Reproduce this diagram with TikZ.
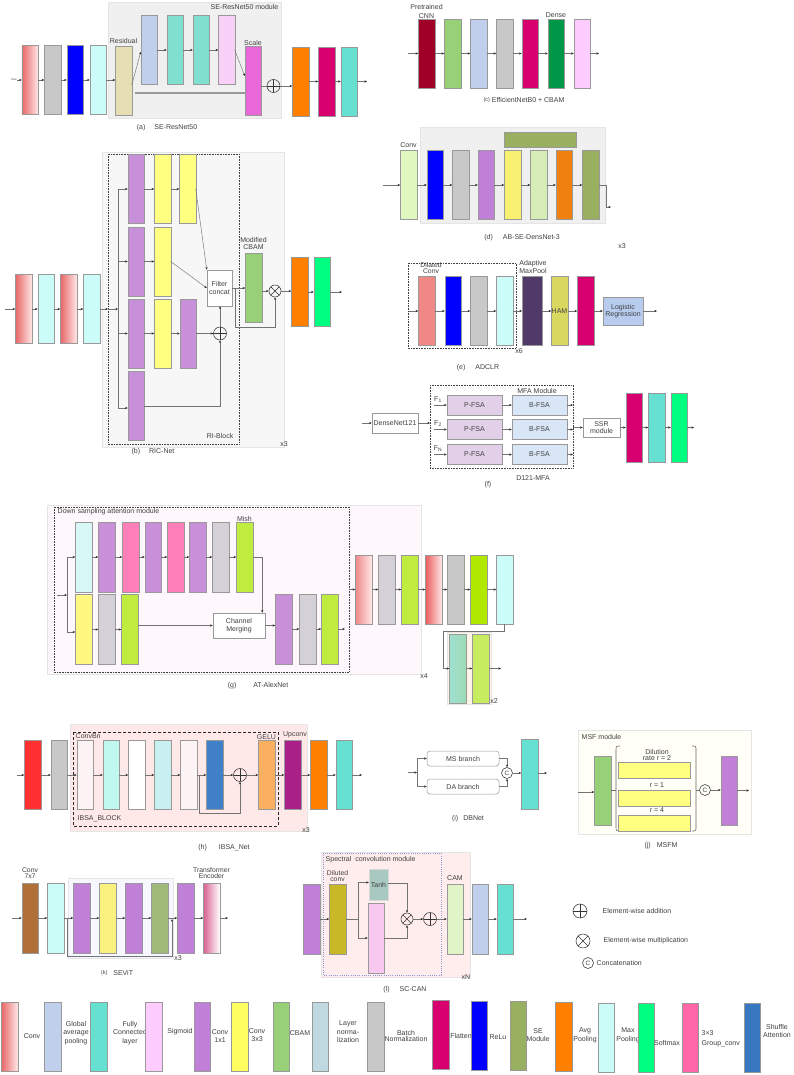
\documentclass[tikz,border=0pt]{standalone}
\usepackage{fontspec}
\setmainfont{Liberation Sans}
\usetikzlibrary{arrows.meta,calc}
\definecolor{cRedL}{HTML}{E86666}
\definecolor{cRedR}{HTML}{FFE6E6}
\definecolor{cGray}{HTML}{C8C8C8}
\definecolor{cBlue}{HTML}{0000FF}
\definecolor{cCyanL}{HTML}{CCFCF8}
\definecolor{cBeige}{HTML}{E6DFB4}
\definecolor{cLBlue}{HTML}{C0D0EC}
\definecolor{cTeal}{HTML}{80E0D0}
\definecolor{cTealB}{HTML}{66E0D0}
\definecolor{cPinkL}{HTML}{F8D0F8}
\definecolor{cPinkF}{HTML}{FFCCFF}
\definecolor{cMag}{HTML}{E868D8}
\definecolor{cOrange}{HTML}{FF8000}
\definecolor{cCrimson}{HTML}{D8006F}
\definecolor{cDarkRed}{HTML}{A00028}
\definecolor{cGreen}{HTML}{98D078}
\definecolor{cDGreen}{HTML}{009848}
\definecolor{cPurple}{HTML}{C890D8}
\definecolor{cPurple2}{HTML}{C080D8}
\definecolor{cYellow}{HTML}{FFFF80}
\definecolor{cYellowB}{HTML}{FFFF60}
\definecolor{cSpring}{HTML}{00FF80}
\definecolor{cConvLG}{HTML}{E0F8C0}
\definecolor{cOlive}{HTML}{98B060}
\definecolor{cYel2}{HTML}{F8F070}
\definecolor{cLG2}{HTML}{D8ECB8}
\definecolor{cOr2}{HTML}{F08010}
\definecolor{cSalmon}{HTML}{F08888}
\definecolor{cDPurp}{HTML}{503A68}
\definecolor{cHam}{HTML}{D8D860}
\definecolor{cLogReg}{HTML}{B8CCF0}
\definecolor{cPFSA}{HTML}{E2D0E8}
\definecolor{cBFSA}{HTML}{D8E6F8}
\definecolor{cPinkG}{HTML}{FF80B8}
\definecolor{cLime}{HTML}{C0EC40}
\definecolor{cLime2}{HTML}{B0E800}
\definecolor{cLime3}{HTML}{C8EC60}
\definecolor{cGrayP}{HTML}{D4D0D8}
\definecolor{cYel3}{HTML}{FFF880}
\definecolor{cCyanG}{HTML}{D8F8F8}
\definecolor{cRed}{HTML}{FF3030}
\definecolor{cWhiteP}{HTML}{FCF4F4}
\definecolor{cCyan2}{HTML}{C0F8F0}
\definecolor{cCyan3}{HTML}{C8F0F0}
\definecolor{cSABlue}{HTML}{4080C8}
\definecolor{cGELU}{HTML}{F8B060}
\definecolor{cUp}{HTML}{A82088}
\definecolor{cBrown}{HTML}{B07038}
\definecolor{cOlive2}{HTML}{A0B878}
\definecolor{cDil}{HTML}{C8B828}
\definecolor{cTanh}{HTML}{A8C8C0}
\definecolor{cPinkT}{HTML}{F8C8F0}
\definecolor{cCAM}{HTML}{E0F4C8}
\definecolor{cLN}{HTML}{C0D8E0}
\definecolor{cPinkGC}{HTML}{FF66A8}
\definecolor{cShuffle}{HTML}{3878C0}
\definecolor{cTxt}{HTML}{404040}
\definecolor{cMagL}{HTML}{D86090}
\definecolor{cTealG}{HTML}{A0E0D0}
\definecolor{cDotBlue}{HTML}{8898D8}
\begin{document}
\begin{tikzpicture}[x=1pt,y=-1pt,
  font=\fontsize{7}{7.6}\selectfont,
  blk/.style={draw=black!40, line width=0.5pt, minimum width=16.5pt, minimum height=69pt, inner sep=0pt, outer sep=0pt},
  grad/.style 2 args={left color=#1, right color=#2},
  arr/.style={draw=black!55, line width=0.45pt, -{Stealth[length=2.6pt,width=2.2pt,color=black!85]}},
  ln/.style={draw=black!55, line width=0.45pt},
  lbl/.style={text=cTxt, inner sep=0.5pt, align=center},
  lblt/.style={lbl, font=\fontsize{6.8}{6}\selectfont},
  lblw/.style={lbl, font=\fontsize{7}{8.4}\selectfont},
  bx/.style={draw=black!40, line width=0.5pt, fill=white, inner sep=1pt, align=center, text=cTxt},
  bgbox/.style={draw=black!10, line width=0.5pt},
  dotbox/.style={draw=black!75, line width=0.7pt, dash pattern=on 0.7pt off 0.9pt},
  oplus/.style={circle, draw=black!80, line width=0.55pt, minimum size=13pt, inner sep=0pt,
    path picture={\draw[black!80, line width=0.55pt] (path picture bounding box.north) -- (path picture bounding box.south) (path picture bounding box.west) -- (path picture bounding box.east);}},
  otimes/.style={circle, draw=black!80, line width=0.55pt, minimum size=12pt, inner sep=0pt,
    path picture={\draw[black!80, line width=0.55pt] (path picture bounding box.north west) -- (path picture bounding box.south east) (path picture bounding box.north east) -- (path picture bounding box.south west);}},
  concat/.style={circle, draw=black!80, line width=0.55pt, minimum size=11pt, inner sep=0pt, font=\fontsize{6.3}{6.3}\selectfont, text=cTxt}
]
\useasboundingbox (0,0) rectangle (793,1075);
\fill[white] (0,0) rectangle (793,1075);

% ================= (a) SE-ResNet50
\draw[bgbox, fill=black!6] (108,2) rectangle (281,118);
\node[lbl, anchor=east] (aMod) at (279,7) {SE-ResNet50 module};
\node[lbl, font=\fontsize{2.5}{3}\selectfont] (aIn) at (14,80) {Data};
\node[blk, grad={cRedL}{cRedR}] (a1) at (30,80) {};
\node[blk, fill=cGray] (a2) at (52.5,80) {};
\node[blk, fill=cBlue] (a3) at (75,80) {};
\node[blk, fill=cCyanL] (a4) at (98,80) {};
\node[blk, fill=cBeige] (a5) at (123.5,80.5) {};
\node[lbl] (aRes) at (123.5,41) {Residual};
\node[blk, fill=cLBlue] (a6) at (149,50) {};
\node[blk, fill=cTeal] (a7) at (175,50) {};
\node[blk, fill=cTeal] (a8) at (201,50) {};
\node[blk, fill=cPinkL] (a9) at (226.5,50) {};
\node[blk, fill=cMag] (a10) at (253,80.5) {};
\node[lbl] (aSc) at (253,43) {Scale};
\node[oplus] (aPlus) at (273.5,86) {};
\node[blk, fill=cOrange] (a11) at (300.5,81.5) {};
\node[blk, fill=cCrimson] (a12) at (326.5,81.5) {};
\node[blk, fill=cTealB] (a13) at (349,81.5) {};
\coordinate (aOut) at (367,81.5);
\draw[arr] (aIn) -- (a1);
\draw[arr] (a1) -- (a2);
\draw[arr] (a2) -- (a3);
\draw[arr] (a3) -- (a4);
\draw[arr] (a4) -- (a4 -| a5.west);
\draw[arr] ($(a5.east)+(0,4.5)$) -- ($(a6.west)+(0,2)$);
\draw[arr] (a6) -- (a7);
\draw[arr] (a7) -- (a8);
\draw[arr] (a8) -- (a9);
\draw[arr] (a9.east) -- ($(a10.west)+(0,-4.5)$);
\draw[draw=black!40, line width=1.2pt] ($(a5.east)+(3,12.5)$) -- ($(a10.west)+(0,12.5)$);
\draw[ln] (aPlus.west -| a10.east) -- (aPlus.west);
\draw[arr] (aPlus.east) -- (aPlus.east -| a11.west);
\draw[arr] (a11) -- (a12);
\draw[arr] (a12) -- (a13);
\draw[arr] (a13) -- (aOut);
\node[lbl] (aCap) at (167,128) {(a)\hspace{9pt}SE-ResNet50};

% ================= (c) EfficientNetB0 + CBAM
\coordinate (cIn) at (408,53.5);
\node[blk, fill=cDarkRed] (c1) at (426.5,53.5) {};
\node[blk, fill=cGreen] (c2) at (452.5,53.5) {};
\node[blk, fill=cLBlue] (c3) at (478.5,53.5) {};
\node[blk, fill=cGray] (c4) at (504.5,53.5) {};
\node[blk, fill=cCrimson] (c5) at (530,53.5) {};
\node[blk, fill=cDGreen] (c6) at (556,53.5) {};
\node[blk, fill=cPinkF] (c7) at (582,53.5) {};
\coordinate (cOut) at (599,53.5);
\node[lbl, font=\fontsize{7}{8.4}\selectfont] (cPre) at (426.5,11.5) {Pretrained\\CNN};
\node[lbl] (cDen) at (556,15.5) {Dense};
\draw[arr] (cIn) -- (c1);
\draw[arr] (c1) -- (c2);
\draw[arr] (c2) -- (c3);
\draw[arr] (c3) -- (c4);
\draw[arr] (c4) -- (c5);
\draw[arr] (c5) -- (c6);
\draw[arr] (c6) -- (c7);
\draw[arr] (c7) -- (cOut);
\node[lbl] (cCap) at (524,100) {\raisebox{1.5pt}{\fontsize{5.5}{5.5}\selectfont(c)} EfficientNetB0 + CBAM};

% ================= (b) RIC-Net
\draw[bgbox, fill=black!3] (102,152) rectangle (284,447);
\draw[dotbox] (108,154) rectangle (239,444);
\node[lbl, anchor=east] (bRI) at (234,436) {RI-Block};
\node[lbl] (bx3) at (284,444) {x3};
\coordinate (bIn) at (5,309);
\node[blk, grad={cRedL}{cRedR}] (b1) at (23.5,309) {};
\node[blk, fill=cCyanL] (b2) at (46,309) {};
\node[blk, grad={cRedL}{cRedR}] (b3) at (68.5,309) {};
\node[blk, fill=cCyanL] (b4) at (91.5,309) {};
\coordinate (bE) at (108,309);
\coordinate (bS) at (118,309);
\draw[arr] (bIn) -- (b1);
\draw[arr] (b1) -- (b2);
\draw[arr] (b2) -- (b3);
\draw[arr] (b3) -- (b4);
\draw[arr] (b4) -- (bE);
\draw[arr] (bE) -- (bS);
\node[blk, fill=cPurple] (bp1) at (136,189) {};
\node[blk, fill=cPurple] (bp2) at (136,261.5) {};
\node[blk, fill=cPurple] (bp3) at (136,333.5) {};
\node[blk, fill=cPurple] (bp4) at (136,406) {};
\node[blk, fill=cYellow] (by1) at (162.5,189) {};
\node[blk, fill=cYellow] (by2) at (162.5,261.5) {};
\node[blk, fill=cYellow] (by3) at (162.5,333.5) {};
\node[blk, fill=cYellow] (by1b) at (187.5,189) {};
\node[blk, fill=cPurple] (bp3b) at (188,333.5) {};
\coordinate (bS1) at (118,189);
\coordinate (bS2) at (118,261.5);
\coordinate (bS3) at (118,333.5);
\coordinate (bS4) at (118,408);
\draw[ln] (bS1) -- (bS4);
\draw[arr] (bS1) -- (bp1);
\draw[arr] (bS2) -- (bp2);
\draw[arr] (bS3) -- (bp3);
\draw[arr] (bS4) -- (bS4 -| bp4.west);
\draw[arr] (bp1) -- (by1);
\draw[arr] (by1) -- (by1b);
\draw[arr] (bp2) -- (by2);
\draw[arr] (bp3) -- (by3);
\draw[arr] (by3) -- (bp3b);
\node[bx, minimum width=25pt, minimum height=36pt] (bFC) at (219.5,288) {Filter\\concat};
\node[oplus] (bPlus) at (220,333.5) {};
\draw[arr] (by1b.east) -- (bFC.north west);
\draw[arr] (by2.east) -- (bFC.west);
\draw[arr] (bp3b) -- (bPlus);
\draw[arr] (bp4.east) -| (bPlus.south);
\draw[arr] (bPlus.north) -- (bPlus.north |- bFC.south);
\node[blk, fill=cGreen] (bCBAM) at (253.5,287.5) {};
\node[lbl] (bMod) at (253.5,243.5) {Modified\\CBAM};
\node[otimes] (bTimes) at (275,291) {};
\draw[arr] (bFC.east) -- (bFC.east -| bCBAM.west);
\coordinate (bB1) at (235,288);
\coordinate (bB2) at (235,327);
\draw[arr] (bB1) -- (bB2) -| (bTimes.south);
\draw[arr] (bCBAM.east |- bTimes) -- (bTimes.west);
\node[blk, fill=cOrange] (bo) at (299.5,292) {};
\node[blk, fill=cSpring] (bg) at (322,292) {};
\coordinate (bOut) at (342,292);
\draw[arr] (bTimes.east) -- (bTimes.east -| bo.west);
\draw[arr] (bo) -- (bg);
\draw[arr] (bg) -- (bOut);
\node[lbl] (bCap) at (153,452) {(b)\hspace{9pt}RIC-Net};

% ================= (d) AB-SE-DensNet-3
\draw[bgbox, fill=black!6] (420,127) rectangle (605,223);
\node[draw=black!40, line width=0.5pt, fill=cOlive, minimum width=72pt, minimum height=15pt, inner sep=0pt] (dTop) at (540,139.5) {};
\coordinate (dIn) at (383,185);
\node[blk, fill=cConvLG] (d1) at (408.5,185) {};
\node[lbl] (dConv) at (408.5,145) {Conv};
\node[blk, fill=cBlue] (d2) at (435,185) {};
\node[blk, fill=cGray] (d3) at (460.5,185) {};
\node[blk, fill=cPurple2] (d4) at (486,185) {};
\node[blk, fill=cYel2] (d5) at (512.5,185) {};
\node[blk, fill=cLG2] (d6) at (538.5,185) {};
\node[blk, fill=cOr2] (d7) at (564,185) {};
\node[blk, fill=cOlive] (d8) at (590.5,185) {};
\coordinate (dOut) at (611,207);
\draw[arr] (dIn) -- (d1);
\draw[arr] (d1) -- (d2);
\draw[arr] (d2) -- (d3);
\draw[arr] (d3) -- (d4);
\draw[arr] (d4) -- (d5);
\draw[arr] (d5) -- (d6);
\draw[arr] (d6) -- (d7);
\draw[arr] (d7) -- (d8);
\draw[arr] (d8.east) -- ++(7,0) |- (dOut);
\node[lbl] (dCap) at (522,238) {(d)\hspace{10pt}AB-SE-DensNet-3};
\node[lbl] (dx3) at (622,246) {x3};

% ================= (e) ADCLR
\draw[dotbox] (408,263) rectangle (516,348);
\node[lbl] (ex6) at (519,351) {x6};
\coordinate (eIn) at (409,311);
\node[blk, fill=cSalmon] (e1) at (426.5,311) {};
\node[lblt] (eDil) at (431,268.5) {Dilated\\Conv};
\node[blk, fill=cBlue] (e2) at (453,311) {};
\node[blk, fill=cGray] (e3) at (478.5,311) {};
\node[blk, fill=cCyanL] (e4) at (504.5,311) {};
\node[blk, fill=cDPurp, minimum width=20pt] (e5) at (532,311) {};
\node[lbl] (eAda) at (533,267) {Adaptive\\MaxPool};
\node[blk, fill=cHam, text=cTxt] (e6) at (559.5,311) {HAM};
\node[blk, fill=cCrimson] (e7) at (585.5,311) {};
\node[bx, fill=cLogReg, minimum width=40pt, minimum height=28pt] (eLR) at (623,311) {Logistic\\Regression};
\coordinate (eOut) at (657,311);
\draw[arr] (eIn) -- (e1);
\draw[arr] (e1) -- (e2);
\draw[arr] (e2) -- (e3);
\draw[arr] (e3) -- (e4);
\draw[arr] (e4) -- (e5);
\draw[arr] (e5) -- (e6);
\draw[arr] (e6) -- (e7);
\draw[arr] (e7) -- (eLR);
\draw[arr] (eLR) -- (eOut);
\node[lbl] (eCap) at (478,368) {(e)\hspace{10pt}ADCLR};

% ================= (f) D121-MFA
\draw[dotbox] (430,385) rectangle (573,468);
\node[lbl] (fMFA) at (537,391) {MFA Module};
\coordinate (fIn) at (362,423);
\node[bx, minimum width=46pt, minimum height=20pt, inner sep=0pt] (fDN) at (395,423) {DenseNet121};
\coordinate (fE) at (430,423);
\draw[arr] (fIn) -- (fDN);
\draw[arr] (fDN) -- (fE);
\node[bx, fill=cPFSA, minimum width=55pt, minimum height=20pt] (fP1) at (474.5,405) {P-FSA};
\node[bx, fill=cPFSA, minimum width=55pt, minimum height=20pt] (fP2) at (474.5,429.5) {P-FSA};
\node[bx, fill=cPFSA, minimum width=55pt, minimum height=20pt] (fP3) at (474.5,454.5) {P-FSA};
\node[bx, fill=cBFSA, minimum width=55pt, minimum height=20pt] (fB1) at (539.5,405) {B-FSA};
\node[bx, fill=cBFSA, minimum width=55pt, minimum height=20pt] (fB2) at (539.5,429.5) {B-FSA};
\node[bx, fill=cBFSA, minimum width=55pt, minimum height=20pt] (fB3) at (539.5,454.5) {B-FSA};
\node[lbl] (fF1) at (438,399.5) {F\textsubscript{1}};
\node[lbl] (fF2) at (438,424) {F\textsubscript{2}};
\node[lbl] (fFN) at (438,449) {F\textsubscript{N}};
\coordinate (fL1) at (434,405);
\coordinate (fL2) at (434,429.5);
\coordinate (fL3) at (434,454.5);
\coordinate (fR1) at (573,405);
\coordinate (fR2) at (573,429.5);
\coordinate (fR3) at (573,454.5);
\draw[arr] (fL1) -- (fP1);
\draw[arr] (fL2) -- (fP2);
\draw[arr] (fL3) -- (fP3);
\draw[arr] (fP1) -- (fB1);
\draw[arr] (fP2) -- (fB2);
\draw[arr] (fP3) -- (fB3);
\draw[arr] (fB1) -- (fR1);
\draw[arr] (fB2) -- (fR2);
\draw[arr] (fB3) -- (fR3);
\node[bx, minimum width=37pt, minimum height=19pt] (fSSR) at (601.5,427.5) {SSR\\module};
\coordinate (fO) at (573,427.5);
\draw[arr] (fO) -- (fSSR);
\node[blk, fill=cCrimson] (f1) at (634,427.5) {};
\node[blk, fill=cTealB] (f2) at (656.5,427.5) {};
\node[blk, fill=cSpring] (f3) at (679,427.5) {};
\coordinate (fOut) at (694,427.5);
\draw[arr] (fSSR) -- (f1);
\draw[arr] (f1) -- (f2);
\draw[arr] (f2) -- (f3);
\draw[arr] (f3) -- (fOut);
\node[lbl] (fCapA) at (488,485) {(f)};
\node[lbl] (fCapB) at (533,478) {D121-MFA};

% ================= (g) AT-AlexNet
\draw[bgbox, fill=magenta!3] (47,505) rectangle (421,674);
\draw[dotbox] (54,507) rectangle (349,672);
\node[lbl, anchor=west] (gDS) at (57,512) {Down sampling attention module};
\node[blk, fill=cCyanG, minimum height=70pt] (g1) at (83.5,557) {};
\node[blk, fill=cPurple, minimum height=70pt] (g2) at (106.5,557) {};
\node[blk, fill=cPinkG, minimum height=70pt] (g3) at (130.5,557) {};
\node[blk, fill=cPurple, minimum height=70pt] (g4) at (153,557) {};
\node[blk, fill=cPinkG, minimum height=70pt] (g5) at (175.5,557) {};
\node[blk, fill=cPurple, minimum height=70pt] (g6) at (197.5,557) {};
\node[blk, fill=cGrayP, minimum height=70pt] (g7) at (220.5,557) {};
\node[blk, fill=cLime, minimum height=70pt] (g8) at (244.5,557) {};
\node[lbl] (gMish) at (244.5,519) {Mish};
\node[blk, fill=cYel3, minimum height=70pt] (g9) at (83.5,629.5) {};
\node[blk, fill=cGrayP, minimum height=70pt] (g10) at (106.5,629.5) {};
\node[blk, fill=cLime, minimum height=70pt] (g11) at (129.5,629.5) {};
\coordinate (gIn) at (57,595);
\coordinate (gSp) at (67,595);
\coordinate (gT) at (67,557);
\coordinate (gB) at (67,632);
\draw[arr] (gIn) -- (gSp);
\draw[ln] (gT) -- (gB);
\draw[arr] (gT) -- (g1);
\draw[arr] (gB) -- (gB -| g9.west);
\draw[arr] (g1) -- (g2);
\draw[arr] (g2) -- (g3);
\draw[arr] (g3) -- (g4);
\draw[arr] (g4) -- (g5);
\draw[arr] (g5) -- (g6);
\draw[arr] (g6) -- (g7);
\draw[arr] (g7) -- (g8);
\draw[arr] (g9) -- (g10);
\draw[arr] (g10) -- (g11);
\node[bx, minimum width=52pt, minimum height=25pt] (gCM) at (239,625.5) {Channel\\Merging};
\draw[arr] (g11.east |- gCM.west) -- (gCM.west);
\draw[arr] (g8.east) -| ($(gCM.north east)+(-3,0)$);
\node[blk, fill=cPurple, minimum height=70pt] (g12) at (283.5,629) {};
\node[blk, fill=cGrayP, minimum height=70pt] (g13) at (307.5,629) {};
\node[blk, fill=cLime, minimum height=70pt] (g14) at (329.5,629) {};
\coordinate (gO1) at (345,629);
\draw[arr] (gCM.east) -- (gCM.east -| g12.west);
\draw[arr] (g12) -- (g13);
\draw[arr] (g13) -- (g14);
\draw[arr] (g14) -- (gO1);
\coordinate (gR0) at (350,589.5);
\node[blk, grad={cSalmon}{cRedR}] (r1) at (363.5,589.5) {};
\node[blk, fill=cGrayP] (r2) at (386.5,589.5) {};
\node[blk, fill=cLime] (r3) at (409.5,589.5) {};
\node[blk, grad={cRedL!90!red}{cRedR}] (r4) at (433.5,589.5) {};
\node[blk, fill=cGray] (r5) at (455.5,589.5) {};
\node[blk, fill=cLime2] (r6) at (478.5,589.5) {};
\node[blk, fill=cCyanL] (r7) at (504.5,589.5) {};
\draw[arr] (gR0) -- (r1);
\draw[arr] (r1) -- (r2);
\draw[arr] (r2) -- (r3);
\draw[arr] (r3) -- (r4);
\draw[arr] (r4) -- (r5);
\draw[arr] (r5) -- (r6);
\draw[arr] (r6) -- (r7);
\draw[bgbox, fill=orange!9] (447,632) rectangle (491,704);
\node[blk, grad={cTealG}{cTealG!70!cGreen}] (r8) at (457.5,668.5) {};
\node[blk, fill=cLime3] (r9) at (480.5,668.5) {};
\coordinate (gTurn) at (443,631);
\coordinate (gOut2) at (501,668.5);
\draw[arr] (r7.south) |- (gTurn) |- (r8.west);
\draw[arr] (r8) -- (r9);
\draw[arr] (r9) -- (gOut2);
\node[lbl] (gx2) at (494,701) {x2};
\node[lbl] (gx4) at (424,676) {x4};
\node[lbl] (gCap) at (258,686) {(g)\hspace{17pt}AT-AlexNet};

% ================= (h) IBSA_Net
\draw[bgbox, fill=red!9] (70,724) rectangle (307,831);
\draw[draw=black!85, line width=0.9pt, dash pattern=on 3pt off 2pt] (73,732) rectangle (278,826);
\node[lbl, anchor=west] (hCB) at (75,736) {ConvBn};
\node[lbl] (hGE) at (266.5,737) {GELU};
\node[lbl] (hUp) at (295,735) {Upconv};
\node[lbl, anchor=west] (hIB) at (77,819) {IBSA\_BLOCK};
\node[lbl] (hx3) at (306,830) {x3};
\coordinate (hIn) at (17,775);
\node[blk, fill=cRed] (h1) at (32.5,775) {};
\node[blk, fill=cGray] (h2) at (59,775) {};
\node[blk, fill=cWhiteP] (h3) at (85,775) {};
\node[blk, fill=cCyan2] (h4) at (111,775) {};
\node[blk, fill=white] (h5) at (136.5,775) {};
\node[blk, fill=cCyan3] (h6) at (162.5,775) {};
\node[blk, fill=cWhiteP] (h7) at (188.5,775) {};
\node[blk, fill=cSABlue] (h8) at (214.5,775) {};
\node[oplus] (hPlus) at (240,775) {};
\node[blk, fill=cGELU] (h9) at (266.5,775) {};
\node[blk, fill=cUp] (h10) at (292.5,775) {};
\node[blk, fill=cOrange] (h11) at (318.5,775) {};
\node[blk, fill=cTealB] (h12) at (344,775) {};
\coordinate (hOut) at (362,775);
\draw[arr] (hIn) -- (h1);
\draw[arr] (h1) -- (h2);
\draw[arr] (h2) -- (h3);
\draw[arr] (h3) -- (h4);
\draw[arr] (h4) -- (h5);
\draw[arr] (h5) -- (h6);
\draw[arr] (h6) -- (h7);
\draw[arr] (h7) -- (h8);
\draw[arr] (h8) -- (hPlus);
\draw[arr] (hPlus) -- (h9);
\draw[arr] (h9) -- (h10);
\draw[arr] (h10) -- (h11);
\draw[arr] (h11) -- (h12);
\draw[arr] (h12) -- (hOut);
\coordinate (hSk) at (199,775);
\coordinate (hSk2) at (199,813);
\draw[arr] (hSk) -- (hSk2) -| (hPlus.south);
\node[lbl] (hCap) at (224,848) {(h)\hspace{12pt}IBSA\_Net};

% ================= (i) DBNet
\coordinate (iIn) at (408,772.5);
\coordinate (iSp) at (417,772.5);
\coordinate (iT) at (417,758.5);
\coordinate (iB) at (417,786.5);
\draw[arr] (iIn) -- (iSp);
\draw[ln] (iT) -- (iB);
\node[bx, rounded corners=3pt, minimum width=72pt, minimum height=15pt] (iMS) at (463,758.5) {MS branch};
\node[bx, rounded corners=3pt, minimum width=72pt, minimum height=15pt] (iDA) at (463,786.5) {DA branch};
\draw[arr] (iT) -- (iMS);
\draw[arr] (iB) -- (iDA);
\node[concat] (iC) at (507,773) {C};
\draw[arr] (iMS.east) -| (iC.north);
\draw[arr] (iDA.east) -| (iC.south);
\node[blk, fill=cTealB, minimum height=70pt] (iTe) at (529.5,774) {};
\coordinate (iOut) at (547,773);
\draw[arr] (iC.east) -- (iC.east -| iTe.west);
\draw[arr] (iTe.east |- iOut) -- (iOut);
\node[lbl] (iCap) at (468,819) {(i)\hspace{5pt}DBNet};

% ================= (j) MSFM
\draw[bgbox, fill=yellow!3] (578,730) rectangle (751,834);
\node[lbl, anchor=west] (jMSF) at (581,737) {MSF module};
\coordinate (jIn) at (578,792);
\node[blk, fill=cGreen] (jG) at (602.5,790.5) {};
\draw[arr] (jIn) -- (jIn -| jG.west);
\draw[draw=black!60, line width=0.6pt] (620,746) .. controls (616,746) .. (616,751) -- (616,826) .. controls (616,831) .. (620,831);
\draw[draw=black!60, line width=0.6pt] (692,746) .. controls (696,746) .. (696,751) -- (696,826) .. controls (696,831) .. (692,831);
\coordinate (jBL) at (616,790.5);
\coordinate (jBR) at (696,790);
\draw[ln] (jG.east) -- (jBL);
\node[draw=black!40, line width=0.5pt, fill=cYellow, minimum width=72pt, minimum height=16pt, inner sep=0pt] (jY1) at (654,770) {};
\node[draw=black!40, line width=0.5pt, fill=cYellow, minimum width=72pt, minimum height=16pt, inner sep=0pt] (jY2) at (654,798) {};
\node[draw=black!40, line width=0.5pt, fill=cYellow, minimum width=72pt, minimum height=16pt, inner sep=0pt] (jY3) at (654,823.5) {};
\node[lbl, font=\fontsize{7}{6.5}\selectfont] (jD) at (657,755) {Dilution\\rate r = 2};
\node[lbl] (jR1) at (657,785) {r = 1};
\node[lbl] (jR4) at (657,810) {r = 4};
\node[concat] (jC) at (705,790) {C};
\draw[ln] (jBR) -- (jC.west);
\node[blk, fill=cPurple2] (jP) at (729,790.5) {};
\coordinate (jOut) at (749,790.5);
\draw[arr] (jC.east) -- (jC.east -| jP.west);
\draw[arr] (jP) -- (jOut);
\node[lbl] (jCap) at (661,846) {(j)\hspace{6pt}MSFM};

% ================= (k) SEViT
\draw[bgbox, fill=blue!3] (68,878) rectangle (173,958);
\coordinate (kIn) at (12,918);
\node[blk, fill=cBrown, minimum height=70pt] (k1) at (30,918) {};
\node[lblt] (kConv) at (30,873) {Conv\\7x7};
\node[blk, fill=cCyanL, minimum height=70pt] (k2) at (55.5,918) {};
\node[blk, fill=cPurple2, minimum height=70pt] (k3) at (81.5,918) {};
\node[blk, fill=cYel2!90!white, minimum height=70pt] (k4) at (107.5,918) {};
\node[blk, fill=cPurple2, minimum height=70pt] (k5) at (133.5,918) {};
\node[blk, fill=cOlive2, minimum height=70pt] (k6) at (159.5,918) {};
\node[blk, fill=cPurple2, minimum height=70pt] (k7) at (185.5,918) {};
\node[blk, grad={cMagL}{white}, minimum height=70pt] (k8) at (211.5,918) {};
\node[lblt] (kTE) at (211.5,873) {Transformer\\Encoder};
\coordinate (kOut) at (228,918);
\draw[arr] (kIn) -- (k1);
\draw[arr] (k1) -- (k2);
\draw[arr] (k2) -- (k3);
\draw[arr] (k3) -- (k4);
\draw[arr] (k4) -- (k5);
\draw[arr] (k5) -- (k6);
\draw[arr] (k6) -- (k7);
\draw[arr] (k7) -- (k8);
\draw[arr] (k8) -- (kOut);
\coordinate (kSk) at (67,918);
\coordinate (kSk2) at (67,956);
\coordinate (kJoin) at (172,919);
\draw[arr] (kSk) -- (kSk2) -| (kJoin);
\node[lbl] (kx3) at (178,958) {x3};
\node[lbl] (kCap) at (117,973) {\raisebox{1.5pt}{\fontsize{5.5}{5.5}\selectfont(k)}\hspace{6pt}SEViT};

% ================= (l) SC-CAN
\draw[bgbox, fill=red!7] (321,852) rectangle (470,977);
\draw[draw=cDotBlue, line width=0.8pt, dash pattern=on 0.8pt off 1.4pt] (323,853) rectangle (441,975);
\node[lbl, anchor=west] (lSpec) at (325,860) {Spectral\ \ convolution module};
\node[blk, fill=cPurple2, minimum height=70pt] (l1) at (311.5,919) {};
\node[blk, fill=cDil, minimum height=70pt] (l2) at (337.5,919) {};
\node[lblt] (lDil) at (337.5,876) {Diluted\\conv};
\draw[arr] (l1) -- (l2);
\node[draw=black!15, fill=cTanh, minimum width=19pt, minimum height=31pt, inner sep=0pt, text=cTxt] (lTanh) at (378.5,884.5) {Tanh};
\node[blk, fill=cPinkT, minimum height=70pt] (lPink) at (376,938) {};
\coordinate (lSp) at (358,919);
\draw[ln] (l2) -- (lSp);
\draw[arr] (lSp) |- ($(lTanh.west)+(0,-2)$);
\draw[arr] (lSp) |- (lPink.west);
\node[otimes] (lTimes) at (407,919) {};
\node[oplus] (lPlus) at (430,919) {};
\draw[arr] ($(lTanh.east)+(0,-1.5)$) -| (lTimes.north);
\draw[arr] (lPink.east) -| (lTimes.south);
\draw[arr] (lTimes) -- (lPlus);
\node[blk, fill=cCAM, minimum height=70pt] (lCAM) at (455,919) {};
\node[lbl] (lCAMl) at (455,878) {CAM};
\draw[arr] (lPlus) -- (lCAM);
\node[blk, fill=cLBlue, minimum height=70pt] (lLB) at (480,919) {};
\node[blk, fill=cTealB, minimum height=70pt] (lTe) at (505,919) {};
\coordinate (lOut) at (527,919);
\draw[arr] (lCAM) -- (lLB);
\draw[arr] (lLB) -- (lTe);
\draw[arr] (lTe) -- (lOut);
\node[lbl] (lxN) at (466,977) {xN};
\node[lbl] (lCap) at (405,990) {(l)\hspace{10pt}SC-CAN};

% ================= symbol legend
\node[oplus, minimum size=14pt] (sPlus) at (580,911) {};
\node[lbl, anchor=west] (sPlusT) at (602,911) {Element-wise addition};
\node[otimes, minimum size=14pt] (sTimes) at (583,941) {};
\node[lbl, anchor=west] (sTimesT) at (603,941) {Element-wise multiplication};
\node[concat] (sC) at (588,963) {C};
\node[lbl, anchor=west] (sCT) at (596,963) {Concatenation};

% ================= bottom legend
\node[blk, grad={cRedL}{cRedR}] (L1) at (9.5,1037) {};
\node[lbl] (L1t) at (32,1036) {Conv};
\node[blk, fill=cLBlue] (L2) at (52.5,1037) {};
\node[lblw] (L2t) at (76,1033) {Global\\average\\pooling};
\node[blk, fill=cTealB] (L3) at (98.5,1037) {};
\node[lblw] (L3t) at (130,1033) {Fully\\Connected\\layer};
\node[blk, fill=cPinkF] (L4) at (153.5,1037) {};
\node[lbl] (L4t) at (180,1032) {Sigmoid};
\node[blk, fill=cPurple2] (L5) at (202,1037) {};
\node[lblw] (L5t) at (220,1036) {Conv\\1x1};
\node[blk, fill=cYellowB] (L6) at (239.5,1037) {};
\node[lblw] (L6t) at (257,1035) {Conv\\3x3};
\node[blk, fill=cGreen] (L7) at (281,1037) {};
\node[lbl] (L7t) at (300,1033) {CBAM};
\node[blk, fill=cLN] (L8) at (320,1037) {};
\node[lblw] (L8t) at (348,1032) {Layer\\norma-\\lization};
\node[blk, fill=cGray] (L9) at (375.5,1037) {};
\node[lbl, font=\fontsize{7}{6.5}\selectfont] (L9t) at (406,1036) {Batch\\Normalization};
\node[blk, fill=cCrimson] (L10) at (440.5,1035) {};
\node[lbl] (L10t) at (461,1036) {Flatten};
\node[blk, fill=cBlue] (L11) at (479,1036) {};
\node[lbl] (L11t) at (498,1037) {ReLu};
\node[blk, fill=cOlive] (L12) at (518,1036) {};
\node[lbl] (L12t) at (538,1035) {SE\\Module};
\node[blk, fill=cOrange] (L13) at (563.5,1037) {};
\node[lblw] (L13t) at (585,1035.5) {Avg\\Pooling};
\node[blk, fill=cCyanL] (L14) at (606,1038) {};
\node[lblw] (L14t) at (628,1035.5) {Max\\Pooling};
\node[blk, fill=cSpring] (L15) at (646,1038) {};
\node[lbl] (L15t) at (667,1043) {Softmax};
\node[blk, fill=cPinkGC] (L16) at (690,1038) {};
\node[lbl, anchor=west, align=left, font=\fontsize{7}{10}\selectfont] (L16t) at (701,1039) {3×3\\Group\_conv};
\node[blk, fill=cShuffle] (L17) at (752,1038) {};
\node[lbl, font=\fontsize{7}{7.7}\selectfont] (L17t) at (777,1031) {Shuffle\\Attention};
\end{tikzpicture}
\end{document}
